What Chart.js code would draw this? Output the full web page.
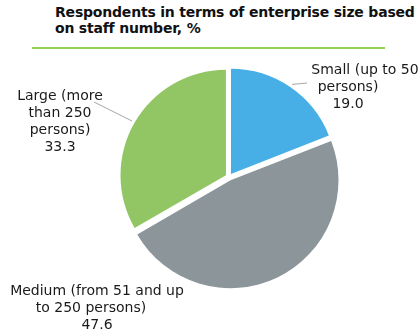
<!DOCTYPE html>
<html>
<head>
<meta charset="utf-8">
<script src="https://cdn.jsdelivr.net/npm/chart.js@4/dist/chart.umd.min.js"></script>
<style>
  html, body { margin: 0; padding: 0; background: #fff; }
  #wrap { position: relative; width: 419px; height: 331px; overflow: hidden; }
  #title {
    position: absolute; left: 55px; top: 4px;
    font: bold 14px "DejaVu Sans", Verdana, sans-serif; line-height: 16px; color: #111;
    letter-spacing: -0.2px; white-space: nowrap;
  }
  #rule { position: absolute; left: 32px; top: 47px; width: 353px; height: 2px; background: #92D050; }
  canvas { position: absolute; left: 0; top: 0; }
</style>
</head>
<body>
<div id="wrap">
  <div id="title">Respondents in terms of enterprise size based<br>on staff number, %</div>
  <div id="rule"></div>
  <canvas id="pie" width="419" height="331"></canvas>
</div>
<script>
const categories = ['Small (up to 50 persons)', 'Medium (from 51 and up to 250 persons)', 'Large (more than 250 persons)'];
const values = [19.0, 47.6, 33.3];
const colors = ['#47AFE5', '#8C959A', '#92C664'];

// how each label is broken into lines, like in the picture
const labelLines = [
  ['Small (up to 50', 'persons)', values[0].toFixed(1)],
  ['Medium (from 51 and up', 'to 250 persons)', values[1].toFixed(1)],
  ['Large (more', 'than 250', 'persons)', values[2].toFixed(1)]
];

// label placement (x of each line centre, y of first line), leader line end
const labelPos = [
  { xs: [365, 348, 348], y: 70, leader: [307, 83] },
  { xs: [97, 91, 97], y: 291, leader: null },
  { xs: [60, 60, 60, 60], y: 96, leader: [94, 102] }
];

const outsideLabels = {
  id: 'outsideLabels',
  afterDatasetsDraw(chart) {
    const ctx = chart.ctx;
    const arcs = chart.getDatasetMeta(0).data;
    ctx.save();
    arcs.forEach((arc, i) => {
      const p = labelPos[i];
      if (p.leader) {
        const mid = (arc.startAngle + arc.endAngle) / 2;
        const off = arc.options.offset / 2;
        const r = arc.outerRadius;
        const ax = arc.x + Math.cos(mid) * (r + off);
        const ay = arc.y + Math.sin(mid) * (r + off);
        ctx.strokeStyle = '#A6A6A6';
        ctx.lineWidth = 1;
        ctx.beginPath();
        ctx.moveTo(ax, ay);
        ctx.lineTo(p.leader[0], p.leader[1]);
        ctx.stroke();
      }
      ctx.fillStyle = '#1a1a1a';
      ctx.font = '14px "DejaVu Sans", Verdana, sans-serif';
      ctx.textAlign = 'center';
      ctx.textBaseline = 'middle';
      labelLines[i].forEach((t, k) => {
        ctx.fillText(t, p.xs[k], p.y + k * 17);
      });
    });
    ctx.restore();
  }
};

new Chart(document.getElementById('pie'), {
  type: 'pie',
  data: {
    labels: categories,
    datasets: [{
      data: values,
      backgroundColor: colors,
      borderWidth: 0,
      offset: 14
    }]
  },
  options: {
    responsive: false,
    animation: false,
    radius: 105,
    layout: { padding: { left: 40, right: 1, top: 60, bottom: 37 } },
    plugins: {
      legend: { display: false },
      tooltip: { enabled: false }
    }
  },
  plugins: [outsideLabels]
});
</script>
</body>
</html>
